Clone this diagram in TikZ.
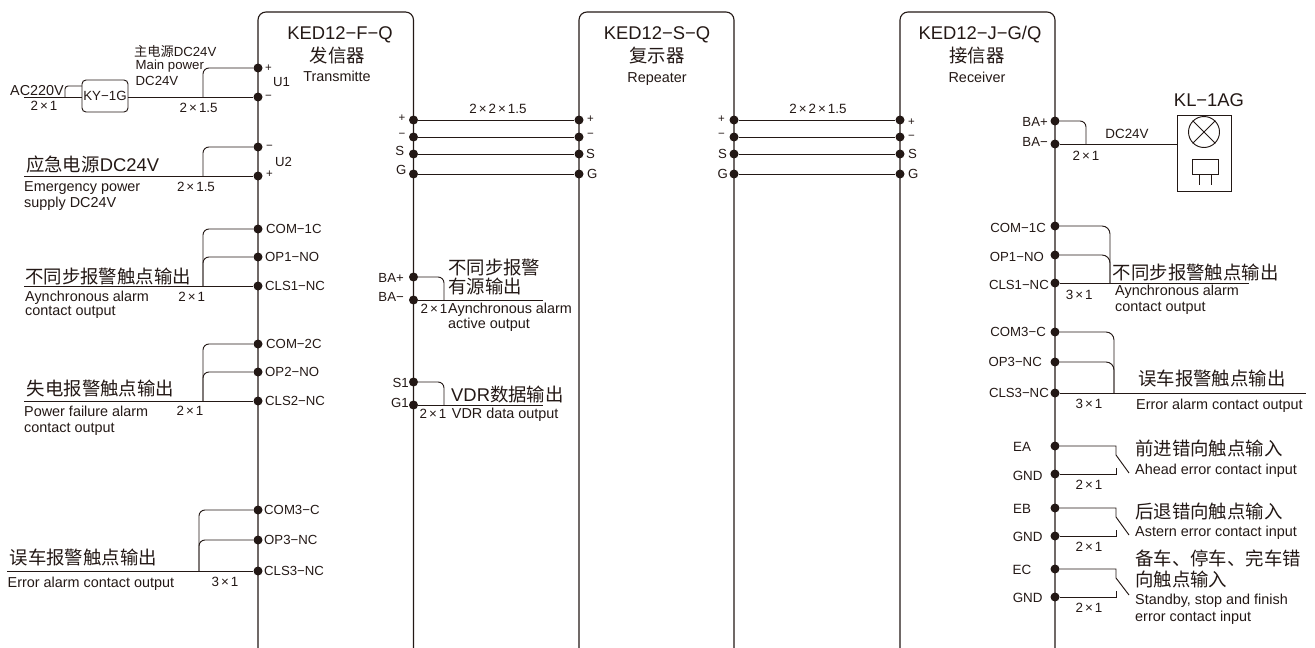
\documentclass[tikz,border=0pt]{standalone}
\usepackage{fontspec}
\setmainfont{Liberation Sans}
\newfontfamily\cjk{Noto Sans CJK SC}
\usepackage{tikz}
\definecolor{inkdark}{HTML}{231815}
\tikzstyle{panel} = [draw=inkdark, line width=1.1pt, rounded corners=8pt]
\tikzstyle{wire} = [draw=inkdark, line width=0.95pt]
\tikzstyle{bendwire} = [wire, rounded corners=6pt]
\tikzstyle{portdot} = [circle, fill=inkdark, inner sep=0pt, minimum size=9pt]
\tikzstyle{kybox} = [draw=inkdark, line width=0.95pt, rounded corners=4pt, minimum width=46pt, minimum height=32pt, inner sep=0pt, font=\fontsize{13.3}{15}\selectfont, text=inkdark]
\tikzstyle{lampbox} = [draw=inkdark, line width=0.95pt, inner sep=0pt]
\tikzstyle{titletext} = [inner sep=0pt, anchor=base, text=inkdark, font=\fontsize{18.4}{20}\selectfont]
\tikzstyle{cntext} = [inner sep=0pt, anchor=base west, align=left, text=inkdark, font=\fontsize{18.4}{20}\selectfont]
\tikzstyle{entext} = [inner sep=0pt, anchor=base west, align=left, text=inkdark, font=\fontsize{14.4}{16}\selectfont]
\tikzstyle{smalltext} = [inner sep=0pt, anchor=base west, align=left, text=inkdark, font=\fontsize{13.2}{15.5}\selectfont]
\tikzstyle{sizetext} = [inner sep=0pt, anchor=base, text=inkdark, font=\fontsize{13.4}{15}\selectfont]
\tikzstyle{porttext} = [inner sep=0pt, text=inkdark, font=\fontsize{13.2}{15}\selectfont]
\tikzstyle{signtext} = [inner sep=0pt, text=inkdark, font=\fontsize{11.5}{12}\selectfont]
\newcommand{\crossx}[2]{#1\kern2pt×\kern2pt#2}

\begin{document}
\begin{tikzpicture}[x=1pt, y=-1pt]
\useasboundingbox (0,0) rectangle (1315,648);

\draw[panel] (258,648) -- (258,12) -- (413.5,12) -- (413.5,648);
\draw[panel] (579,648) -- (579,12) -- (734,12) -- (734,648);
\draw[panel] (900,648) -- (900,12) -- (1055,12) -- (1055,648);

\node[titletext] (ftitle) at (340,39) {KED12−F−Q};
\node[titletext] (fname) at (337.5,62) {\cjk 发信器};
\node[titletext, font=\fontsize{14.4}{16}\selectfont] (fname2) at (337,81.7) {Transmitte};
\node[titletext] (stitle) at (657,39) {KED12−S−Q};
\node[titletext] (sname) at (657,62) {\cjk 复示器};
\node[titletext, font=\fontsize{14.4}{16}\selectfont] (sname2) at (657,82) {Repeater};
\node[titletext] (jtitle) at (980,39) {KED12−J−G/Q};
\node[titletext] (jname) at (977,62) {\cjk 接信器};
\node[titletext, font=\fontsize{14.4}{16}\selectfont] (jname2) at (977,82) {Receiver};

\node[portdot] (u1p) at (258,68) {};
\node[portdot] (u1m) at (258,97) {};
\node[portdot] (u2m) at (258,147) {};
\node[portdot] (u2p) at (258,176) {};
\node[portdot] (fcom1) at (258,229) {};
\node[portdot] (fop1) at (258,257) {};
\node[portdot] (fcls1) at (258,286) {};
\node[portdot] (fcom2) at (258,344) {};
\node[portdot] (fop2) at (258,372) {};
\node[portdot] (fcls2) at (258,401) {};
\node[portdot] (fcom3) at (258,510) {};
\node[portdot] (fop3) at (258,540) {};
\node[portdot] (fcls3) at (258,571) {};

\node[portdot] (fap) at (413.5,120) {};
\node[portdot] (fam) at (413.5,137) {};
\node[portdot] (fas) at (413.5,154) {};
\node[portdot] (fag) at (413.5,174) {};
\node[portdot] (fbap) at (413.5,277) {};
\node[portdot] (fbam) at (413.5,300) {};
\node[portdot] (fs1) at (413.5,382) {};
\node[portdot] (fg1) at (413.5,405) {};

\node[portdot] (sap) at (579,120) {};
\node[portdot] (sam) at (579,137) {};
\node[portdot] (sas) at (579,154) {};
\node[portdot] (sag) at (579,174) {};
\node[portdot] (sbp) at (734,120) {};
\node[portdot] (sbm) at (734,137) {};
\node[portdot] (sbs) at (734,154) {};
\node[portdot] (sbg) at (734,174) {};
\node[portdot] (jap) at (900,120) {};
\node[portdot] (jam) at (900,137) {};
\node[portdot] (jas) at (900,154) {};
\node[portdot] (jag) at (900,174) {};

\node[portdot] (jbap) at (1055,121) {};
\node[portdot] (jbam) at (1055,144) {};
\node[portdot] (jcom1) at (1055,226) {};
\node[portdot] (jop1) at (1055,255) {};
\node[portdot] (jcls1) at (1055,283) {};
\node[portdot] (jcom3) at (1055,332) {};
\node[portdot] (jop3) at (1055,362) {};
\node[portdot] (jcls3) at (1055,393) {};
\node[portdot] (jea) at (1055,446) {};
\node[portdot] (jgnda) at (1055,474) {};
\node[portdot] (jeb) at (1055,508) {};
\node[portdot] (jgndb) at (1055,536) {};
\node[portdot] (jec) at (1055,569) {};
\node[portdot] (jgndc) at (1055,597) {};

\node[kybox] (ky) at (105,96) {KY−1G};
\coordinate (acend) at (24,97);
\coordinate (acsplit) at (65,97);
\coordinate (kyup) at (82,86);
\draw[wire] (acend) -- (ky.west |- acend);
\draw[bendwire, rounded corners=3pt] (acsplit) |- (kyup);
\draw[wire] (ky.east |- u1m) -- (u1m);
\coordinate (u1join) at (203,97);
\draw[bendwire] (u1p) -| (u1join);

\coordinate (u2end) at (24,176);
\coordinate (u2join) at (203,176);
\draw[wire] (u2end) -- (u2p);
\draw[bendwire] (u2m) -| (u2join);

\coordinate (a1end) at (24,286);
\coordinate (a1join) at (203,286);
\draw[wire] (a1end) -- (fcls1);
\draw[bendwire] (fcom1) -| (a1join);
\draw[bendwire] (fop1) -| (a1join);

\coordinate (a2end) at (24,401);
\coordinate (a2join) at (203,401);
\draw[wire] (a2end) -- (fcls2);
\draw[bendwire] (fcom2) -| (a2join);
\draw[bendwire] (fop2) -| (a2join);

\coordinate (a3end) at (7,571);
\coordinate (a3join) at (199,571);
\draw[wire] (a3end) -- (fcls3);
\draw[bendwire] (fcom3) -| (a3join);
\draw[bendwire] (fop3) -| (a3join);

\draw[wire] (fap) -- (sap);
\draw[wire] (fam) -- (sam);
\draw[wire] (fas) -- (sas);
\draw[wire] (fag) -- (sag);
\draw[wire] (sbp) -- (jap);
\draw[wire] (sbm) -- (jam);
\draw[wire] (sbs) -- (jas);
\draw[wire] (sbg) -- (jag);

\coordinate (baend) at (543,300);
\coordinate (bajoin) at (444,300);
\draw[wire] (fbam) -- (baend);
\draw[bendwire] (fbap) -| (bajoin);
\coordinate (vdrend) at (543,405);
\coordinate (vdrjoin) at (444,405);
\draw[wire] (fg1) -- (vdrend);
\draw[bendwire] (fs1) -| (vdrjoin);

\node[lampbox, minimum width=54pt, minimum height=76pt] (lamp) at (1204,153) {};
\node[lampbox, circle, minimum size=31pt] (lampbulb) at (1204,132) {};
\draw[wire] (lampbulb.north west) -- (lampbulb.south east);
\draw[wire] (lampbulb.north east) -- (lampbulb.south west);
\node[lampbox, minimum width=26pt, minimum height=15pt] (lampbell) at (1205,166.5) {};
\coordinate (legl) at (1199,185);
\coordinate (legr) at (1211,185);
\draw[wire] (legl |- lampbell.south) -- (legl);
\draw[wire] (legr |- lampbell.south) -- (legr);
\coordinate (bajjoin) at (1086,144);
\draw[wire] (jbam) -- (lamp.west |- jbam);
\draw[bendwire] (jbap) -| (bajjoin);

\coordinate (j1join) at (1110,283);
\coordinate (j1end) at (1249,283);
\draw[wire] (jcls1) -- (j1end);
\draw[bendwire, rounded corners=8pt] (jcom1) -| (j1join);
\draw[bendwire, rounded corners=8pt] (jop1) -| (j1join);
\coordinate (j3join) at (1114,393);
\coordinate (j3end) at (1306,393);
\draw[wire] (jcls3) -- (j3end);
\draw[bendwire, rounded corners=8pt] (jcom3) -| (j3join);
\draw[bendwire, rounded corners=8pt] (jop3) -| (j3join);

\coordinate (eatop) at (1116,446);
\coordinate (eaknee) at (1116,455);
\coordinate (eatip) at (1129,473);
\coordinate (eabot) at (1116,474);
\coordinate (eastub) at (1116,468);
\draw[wire] (jea) -- (eatop) -- (eaknee) -- (eatip);
\draw[wire] (jgnda) -- (eabot) -- (eastub);
\coordinate (ebtop) at (1116,508);
\coordinate (ebknee) at (1116,517);
\coordinate (ebtip) at (1129,535);
\coordinate (ebbot) at (1116,536);
\coordinate (ebstub) at (1116,530);
\draw[wire] (jeb) -- (ebtop) -- (ebknee) -- (ebtip);
\draw[wire] (jgndb) -- (ebbot) -- (ebstub);
\coordinate (ectop) at (1116,569);
\coordinate (ecknee) at (1116,578);
\coordinate (ectip) at (1129,595);
\coordinate (ecbot) at (1116,597);
\coordinate (ecstub) at (1116,591);
\draw[wire] (jec) -- (ectop) -- (ecknee) -- (ectip);
\draw[wire] (jgndc) -- (ecbot) -- (ecstub);

\node[signtext, right=7pt] (u1plus) at (u1p) {+};
\node[signtext, right=7pt] (u1minus) at (u1m) {−};
\node[porttext, anchor=base west] (u1text) at (273,86) {U1};
\node[signtext, right=8pt] (u2minus) at (u2m) {−};
\node[signtext, right=8pt] (u2plus) at (258,174) {+};
\node[porttext, anchor=base west] (u2text) at (275,166) {U2};
\node[porttext, right=8pt] (fcom1text) at (fcom1) {COM−1C};
\node[porttext, right=7pt] (fop1text) at (fop1) {OP1−NO};
\node[porttext, right=7pt] (fcls1text) at (fcls1) {CLS1−NC};
\node[porttext, right=8pt] (fcom2text) at (fcom2) {COM−2C};
\node[porttext, right=7pt] (fop2text) at (fop2) {OP2−NO};
\node[porttext, right=7pt] (fcls2text) at (fcls2) {CLS2−NC};
\node[porttext, right=6pt] (fcom3text) at (fcom3) {COM3−C};
\node[porttext, right=6pt] (fop3text) at (fop3) {OP3−NC};
\node[porttext, right=6pt] (fcls3text) at (fcls3) {CLS3−NC};

\node[entext] (actext) at (10,95) {AC220V};
\node[sizetext] (acsize) at (44,110.7) {\crossx{2}{1}};
\node[smalltext] (u1cn) at (134,56.5) {{\cjk 主电源}DC24V};
\node[smalltext] (u1en) at (135.5,85.6) {Main power\\[1pt]DC24V};
\node[sizetext] (u1size) at (198.7,112) {\crossx{2}{1.5}};
\node[cntext] (u2cn) at (26,171) {{\cjk 应急电源}DC24V};
\node[entext] (u2en) at (24,207) {Emergency power\\supply DC24V};
\node[sizetext] (u2size) at (196,191) {\crossx{2}{1.5}};
\node[cntext] (a1cn) at (25,283) {\cjk 不同步报警触点输出};
\node[entext] (a1en) at (25,315) {Aynchronous alarm\\[-2pt]contact output};
\node[sizetext] (a1size) at (191.7,301.7) {\crossx{2}{1}};
\node[cntext] (a2cn) at (26.7,395) {\cjk 失电报警触点输出};
\node[entext] (a2en) at (24,432.7) {Power failure alarm\\contact output};
\node[sizetext] (a2size) at (190,415.7) {\crossx{2}{1}};
\node[cntext] (a3cn) at (9.5,564.5) {\cjk 误车报警触点输出};
\node[entext] (a3en) at (7.5,587) {Error alarm contact output};
\node[sizetext] (a3size) at (225,586) {\crossx{3}{1}};

\node[signtext, left=8pt] (faptext) at (413.5,118) {+};
\node[signtext, left=8pt] (famtext) at (413.5,135) {−};
\node[porttext, left=9pt] (fastext) at (413.5,150.7) {S};
\node[porttext, left=7pt] (fagtext) at (413.5,170) {G};
\node[signtext, right=8pt] (saptext) at (579,119) {+};
\node[signtext, right=8pt] (samtext) at (579,135) {−};
\node[porttext, right=7pt] (sastext) at (sas) {S};
\node[porttext, right=8pt] (sagtext) at (sag) {G};
\node[signtext, left=9pt] (sbptext) at (734,119) {+};
\node[signtext, left=9pt] (sbmtext) at (734,135) {−};
\node[porttext, left=7pt] (sbstext) at (sbs) {S};
\node[porttext, left=6pt] (sbgtext) at (sbg) {G};
\node[signtext, right=8pt] (japtext) at (900,122) {+};
\node[signtext, right=8pt] (jamtext) at (900,137) {−};
\node[porttext, right=8pt] (jastext) at (900,153.5) {S};
\node[porttext, right=8pt] (jagtext) at (jag) {G};
\node[sizetext] (linksize) at (498,113.3) {\crossx{2}{\crossx{2}{1.5}}};
\node[sizetext] (linksizeb) at (818,113.3) {\crossx{2}{\crossx{2}{1.5}}};

\node[porttext, left=9.5pt] (fbaptext) at (413.5,278) {BA+};
\node[porttext, left=9.5pt] (fbamtext) at (413.5,297) {BA−};
\node[porttext, left=4.5pt] (fs1text) at (413.5,382.6) {S1};
\node[porttext, left=4.5pt] (fg1text) at (413.5,402.6) {G1};
\node[cntext] (bacn) at (448,274.5) {\cjk 不同步报警};
\node[cntext] (bacnb) at (448,293) {\cjk 有源输出};
\node[entext] (baen) at (448,328) {Aynchronous alarm\\[-1pt]active output};
\node[sizetext] (basize) at (434,313) {\crossx{2}{1}};
\node[cntext] (vdrcn) at (451,401) {VDR{\cjk 数据输出}};
\node[entext] (vdren) at (451.7,418) {VDR data output};
\node[sizetext] (vdrsize) at (433,418) {\crossx{2}{1}};

\node[porttext, left=7pt] (jbaptext) at (1055,122) {BA+};
\node[porttext, left=7pt] (jbamtext) at (1055,142) {BA−};
\node[sizetext] (jdctext) at (1127,138) {DC24V};
\node[sizetext] (jbasize) at (1086,160.7) {\crossx{2}{1}};
\node[titletext] (lamptitle) at (1209,106.7) {KL−1AG};
\node[porttext, left=9pt] (jcom1text) at (1055,228) {COM−1C};
\node[porttext, left=11pt] (jop1text) at (1055,257) {OP1−NO};
\node[porttext, left=6pt] (jcls1text) at (1055,285) {CLS1−NC};
\node[cntext] (j1cn) at (1112.7,279) {\cjk 不同步报警触点输出};
\node[entext] (j1en) at (1115,311) {Aynchronous alarm\\contact output};
\node[sizetext] (j1size) at (1079.3,299) {\crossx{3}{1}};
\node[porttext, left=9pt] (jcom3text) at (jcom3) {COM3−C};
\node[porttext, left=13pt] (jop3text) at (jop3) {OP3−NC};
\node[porttext, left=6pt] (jcls3text) at (jcls3) {CLS3−NC};
\node[cntext] (j3cn) at (1138,385.5) {\cjk 误车报警触点输出};
\node[entext] (j3en) at (1136,409) {Error alarm contact output};
\node[sizetext] (j3size) at (1089,408) {\crossx{3}{1}};

\node[sizetext] (eatext) at (1022,451.7) {EA};
\node[sizetext] (gndatext) at (1027.7,480) {GND};
\node[sizetext] (easize) at (1089,489) {\crossx{2}{1}};
\node[cntext] (eacn) at (1135,455) {\cjk 前进错向触点输入};
\node[entext] (eaen) at (1135,474) {Ahead error contact input};
\node[sizetext] (ebtext) at (1022,513) {EB};
\node[sizetext] (gndbtext) at (1027.7,541.7) {GND};
\node[sizetext] (ebsize) at (1089,551) {\crossx{2}{1}};
\node[cntext] (ebcn) at (1135,518) {\cjk 后退错向触点输入};
\node[entext] (eben) at (1135,536.7) {Astern error contact input};
\node[sizetext] (ectext) at (1022,574) {EC};
\node[sizetext] (gndctext) at (1027.7,602.7) {GND};
\node[sizetext] (ecsize) at (1089,612.7) {\crossx{2}{1}};
\node[cntext] (eccn) at (1135,565) {\cjk 备车、停车、完车错};
\node[cntext] (eccnb) at (1135,586) {\cjk 向触点输入};
\node[entext] (ecen) at (1135,621.7) {Standby, stop and finish\\[1pt]error contact input};
\end{tikzpicture}
\end{document}
